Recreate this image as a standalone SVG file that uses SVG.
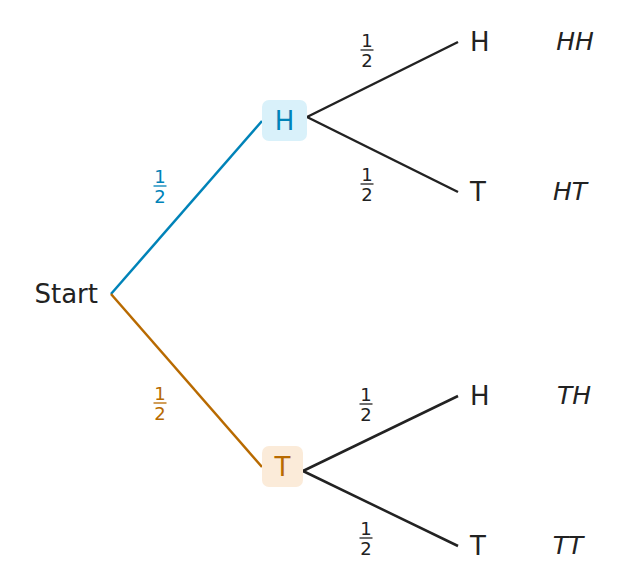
<svg xmlns="http://www.w3.org/2000/svg" width="630" height="588" viewBox="0 0 630 588">
<style>
text{font-family:"DejaVu Sans",sans-serif;fill:#222}
.lab{font-size:26px}
.out{font-size:25px;font-style:italic}
.fr{font-size:18px;text-anchor:middle}
.bar{stroke-width:1.3}
.e{fill:none;stroke-width:2.5}
</style>
<rect width="630" height="588" fill="#fff"/>
<g id="connectors">
<line class="e" x1="111" y1="294" x2="262" y2="121" stroke="#0083b8"/>
<line class="e" x1="111" y1="294" x2="262" y2="467" stroke="#b86a00"/>
<line class="e" x1="307" y1="117" x2="458" y2="42" stroke="#222"/>
<line class="e" x1="307" y1="117" x2="458" y2="192" stroke="#222"/>
<line class="e" x1="303" y1="471" x2="458" y2="396" stroke="#222"/>
<line class="e" x1="303" y1="471" x2="458" y2="546" stroke="#222"/>
</g>
<g id="fractions">
<g transform="translate(160,186)"><text class="fr" y="-3" style="fill:#0083b8">1</text><line class="bar" x1="-6.5" x2="6.5" stroke="#0083b8"/><text class="fr" y="17" style="fill:#0083b8">2</text></g>
<g transform="translate(160,403)"><text class="fr" y="-3" style="fill:#b86a00">1</text><line class="bar" x1="-6.5" x2="6.5" stroke="#b86a00"/><text class="fr" y="17" style="fill:#b86a00">2</text></g>
<g transform="translate(367,50)"><text class="fr" y="-3">1</text><line class="bar" x1="-6.5" x2="6.5" stroke="#222"/><text class="fr" y="17">2</text></g>
<g transform="translate(367,184)"><text class="fr" y="-3">1</text><line class="bar" x1="-6.5" x2="6.5" stroke="#222"/><text class="fr" y="17">2</text></g>
<g transform="translate(366,404)"><text class="fr" y="-3">1</text><line class="bar" x1="-6.5" x2="6.5" stroke="#222"/><text class="fr" y="17">2</text></g>
<g transform="translate(366,538)"><text class="fr" y="-3">1</text><line class="bar" x1="-6.5" x2="6.5" stroke="#222"/><text class="fr" y="17">2</text></g>
</g>
<g id="start"><text class="lab" x="98" y="303" text-anchor="end">Start</text></g>
<g id="nodeH"><rect x="262" y="100" width="45" height="41" rx="7" fill="#d9f1fa"/><text class="lab" x="284.5" y="130" text-anchor="middle" style="fill:#0083b8">H</text></g>
<g id="nodeT"><rect x="262" y="446" width="41" height="41" rx="7" fill="#fbebd9"/><text class="lab" x="282.5" y="476" text-anchor="middle" style="fill:#b86a00">T</text></g>
<g id="HH"><text class="lab" x="470" y="51">H</text><text class="out" x="575" y="50" text-anchor="middle">HH</text></g>
<g id="HT"><text class="lab" x="470" y="201">T</text><text class="out" x="570" y="200" text-anchor="middle">HT</text></g>
<g id="TH"><text class="lab" x="470" y="405">H</text><text class="out" x="574" y="404" text-anchor="middle">TH</text></g>
<g id="TT"><text class="lab" x="470" y="555">T</text><text class="out" x="568" y="554" text-anchor="middle">TT</text></g>
</svg>
